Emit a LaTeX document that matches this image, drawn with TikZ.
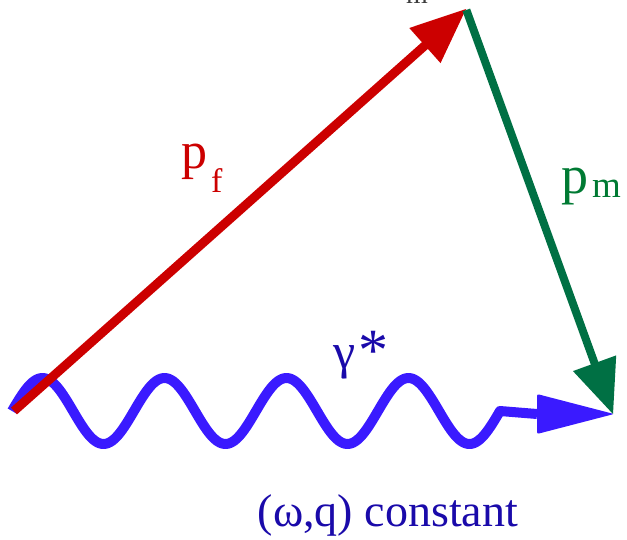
\documentclass[tikz,border=0pt]{standalone}
\usepackage{fontspec}
\setmainfont{Liberation Serif}
\usetikzlibrary{calc}
\definecolor{pfred}{RGB}{204,0,0}
\definecolor{pmgreen}{RGB}{0,112,68}
\definecolor{pmtext}{RGB}{0,122,51}
\definecolor{wave}{RGB}{58,26,255}
\definecolor{gtext}{RGB}{26,10,170}
\definecolor{topgray}{RGB}{60,60,60}
\tikzset{
  lab/.style={inner sep=0pt, anchor=base west},
  redvec/.style={pfred, line width=9pt},
  greenvec/.style={pmgreen, line width=8pt},
  photon/.style={wave, line width=10pt, line join=round}
}
\begin{document}
\begin{tikzpicture}[x=1pt,y=-1pt]
\useasboundingbox (0,0) rectangle (627,539);
\coordinate (O) at (14,411);
\coordinate (T) at (466,9);
\coordinate (W) at (613,414);
\coordinate (Wb) at (614,414);
% photon
\coordinate (BB) at (537,414);
\draw[photon] plot[domain=12:500, samples=240] (\x, {411-33*sin(2.95082*(\x-12))}) -- (BB);
\fill[wave, rounded corners=2pt] (Wb) -- (537,394) -- (537,434) -- cycle;
% p_f
\coordinate (RB) at ($(T)!55pt!(O)$);
\draw[redvec] (O) -- ($(T)!50pt!(O)$);
\fill[pfred] (T) -- ($(RB)!23.5pt!90:(T)$) -- ($(RB)!23.5pt!-90:(T)$) -- cycle;
% p_m
\coordinate (GB) at ($(W)!54pt!(T)$);
\draw[greenvec] ($(T)!1pt!(W)$) -- ($(W)!50pt!(T)$);
\fill[pmgreen] (W) -- ($(GB)!23pt!90:(W)$) -- ($(GB)!23pt!-90:(W)$) -- cycle;
% labels
\node[lab, text=pfred, font=\fontsize{52}{52}\selectfont] (pf) at (181,168) {p};
\node[lab, text=pfred, font=\fontsize{34}{34}\selectfont] (pfs) at (211,192) {f};
\node[lab, text=pmtext, font=\fontsize{54}{54}\selectfont] (pm) at (561,193) {p};
\node[lab, text=pmtext, font=\fontsize{37}{37}\selectfont] (pms) at (592,197) {m};
\node[lab, text=gtext, font=\fontsize{50}{50}\selectfont] (g) at (333,368) {γ};
\node[inner sep=0pt, text=gtext, font=\fontsize{60}{60}\selectfont, anchor=north west] (gs) at (358,331) {*};
\node[inner sep=0pt, text=gtext, font=\fontsize{46}{46}\selectfont, anchor=base] (c) at (388,526) {(ω,q) constant};
\node[lab, text=topgray, font=\fontsize{28}{28}\selectfont] (mt) at (406,3) {m};
\end{tikzpicture}
\end{document}
